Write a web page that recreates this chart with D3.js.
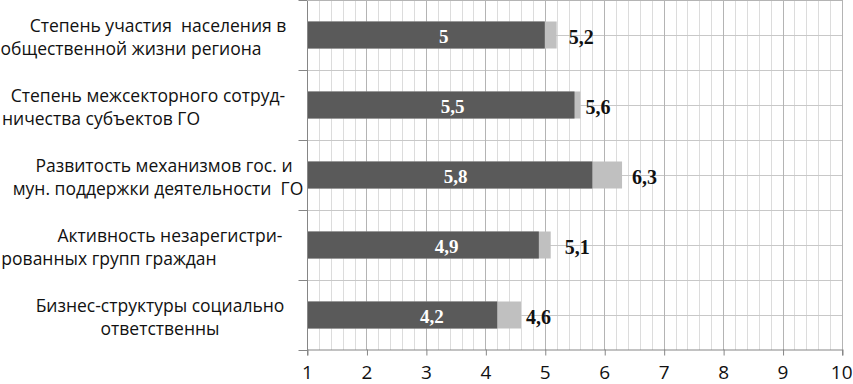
<!DOCTYPE html>
<html><head><meta charset="utf-8">
<script src="https://cdn.jsdelivr.net/npm/d3@7"></script>
<style>body{margin:0;background:#fff}svg{display:block}</style>
</head><body>
<svg id="c" width="853" height="384"></svg>
<script>
const categories = [
  "Степень участия  населения в общественной жизни региона",
  "Степень межсекторного сотрудничества субъектов ГО",
  "Развитость механизмов гос. и мун. поддержки деятельности ГО",
  "Активность незарегистрированных групп граждан",
  "Бизнес-структуры социально ответственны"
];
const labelLines = [
  ["Степень участия  населения в", "общественной жизни региона"],
  ["Степень межсекторного сотруд-", "ничества субъектов ГО"],
  ["Развитость механизмов гос. и", "мун. поддержки деятельности  ГО"],
  ["Активность незарегистри-", "рованных групп граждан"],
  ["Бизнес-структуры социально", "ответственны"]
];
const baseValues = [5, 5.5, 5.8, 4.9, 4.2];
const totalValues = [5.2, 5.6, 6.3, 5.1, 4.6];
const baseLabels = ["5", "5,5", "5,8", "4,9", "4,2"];
const totalLabels = ["5,2", "5,6", "6,3", "5,1", "4,6"];
const xTicks = [1, 2, 3, 4, 5, 6, 7, 8, 9, 10];

// layout (not data)
const lineCenters = [[158, 131], [148, 101], [164, 158], [170, 109], [160, 160]];
const innerLabelPos = [3.3, 3.45, 3.5, 3.35, 3.1];
const outerLabelGap = [12, 5, 10, 14, 5];

const svg = d3.select("#c");
const x = d3.scaleLinear().domain([1, 10]).range([307, 842]);
const y = d3.scaleBand().domain(categories).range([0, 350]).paddingInner(0.614).paddingOuter(0.307);
const step = y.step();

// minor vertical grid
const minor = d3.range(1, 10.0001, 0.2).map(v => +v.toFixed(1)).filter(v => Math.abs(v - Math.round(v)) > 1e-6);
svg.append("g").selectAll("line").data(minor).join("line")
  .attr("x1", d => Math.round(x(d)) + 0.5).attr("x2", d => Math.round(x(d)) + 0.5)
  .attr("y1", 0).attr("y2", 350).attr("stroke", "#dcdcdc").attr("stroke-width", 1);
// horizontal grid at half steps
const hLines = d3.range(0, 10).map(i => i * step / 2);
svg.append("g").selectAll("line").data(hLines).join("line")
  .attr("x1", 307).attr("x2", 842)
  .attr("y1", d => Math.round(d) + 0.5).attr("y2", d => Math.round(d) + 0.5)
  .attr("stroke", "#c8c8c8").attr("stroke-width", 1);
// major vertical grid
svg.append("g").selectAll("line").data(xTicks.slice(1)).join("line")
  .attr("x1", d => Math.round(x(d)) + 0.5).attr("x2", d => Math.round(x(d)) + 0.5)
  .attr("y1", 0).attr("y2", 350).attr("stroke", "#b4b4b4").attr("stroke-width", 1);

// bars
svg.append("g").selectAll("rect").data(categories).join("rect")
  .attr("x", x(1)).attr("y", d => y(d))
  .attr("width", (d, i) => x(totalValues[i]) - x(1)).attr("height", y.bandwidth())
  .attr("fill", "#c0c0c0");
svg.append("g").selectAll("rect").data(categories).join("rect")
  .attr("x", x(1)).attr("y", d => y(d))
  .attr("width", (d, i) => x(baseValues[i]) - x(1)).attr("height", y.bandwidth())
  .attr("fill", "#5a5a5a");

// inner labels
svg.append("g").selectAll("text").data(categories).join("text")
  .attr("x", (d, i) => x(innerLabelPos[i])).attr("y", d => y(d) + y.bandwidth() / 2 + 8)
  .attr("text-anchor", "middle").attr("fill", "#fff")
  .attr("font-family", "Liberation Serif, Times New Roman, serif").attr("font-weight", "bold").attr("font-size", 19)
  .text((d, i) => baseLabels[i]);
// outer labels
svg.append("g").selectAll("text").data(categories).join("text")
  .attr("x", (d, i) => x(totalValues[i]) + outerLabelGap[i]).attr("y", d => y(d) + y.bandwidth() / 2 + 9)
  .attr("text-anchor", "start").attr("fill", "#111")
  .attr("font-family", "Liberation Serif, Times New Roman, serif").attr("font-weight", "bold").attr("font-size", 20)
  .text((d, i) => totalLabels[i]);

// y axis
const yAxisG = svg.append("g").attr("transform", "translate(307.5,0)");
yAxisG.append("line").attr("x1", 0).attr("x2", 0).attr("y1", 0).attr("y2", 350).attr("stroke", "#868686");
yAxisG.selectAll("line.t").data(d3.range(0, 6)).join("line").attr("class", "t")
  .attr("x1", -9).attr("x2", 0).attr("y1", d => Math.round(d * step) + 0.5).attr("y2", d => Math.round(d * step) + 0.5)
  .attr("stroke", "#868686");
// top border
svg.append("line").attr("x1", 307).attr("x2", 843).attr("y1", 0.5).attr("y2", 0.5).attr("stroke", "#b4b4b4");

// x axis
const xAxis = d3.axisBottom(x).tickValues(xTicks).tickSize(6).tickFormat(d3.format("d"));
const xg = svg.append("g").attr("transform", "translate(0,349.5)").call(xAxis);
xg.select(".domain").attr("stroke", "#868686");
xg.selectAll(".tick line").attr("stroke", "#868686").attr("transform", "translate(0.5,0)");
xg.selectAll(".tick text").attr("y", 0).attr("dy", "29px").attr("font-size", 19)
  .attr("font-family", "Open Sans, sans-serif").attr("fill", "#111");
xg.selectAll(".tick text").filter(d => d === 10).attr("text-anchor", "end").attr("dx", "10px");

// category labels
const lg = svg.append("g").attr("font-family", "Open Sans, sans-serif").attr("font-size", 17.5).attr("fill", "#111");
categories.forEach((c, i) => {
  const cy = y(c) + y.bandwidth() / 2;
  labelLines[i].forEach((ln, j) => {
    lg.append("text").attr("x", lineCenters[i][j]).attr("y", cy + (j === 0 ? -3 : 20))
      .attr("text-anchor", "middle").attr("xml:space", "preserve").style("white-space", "pre").text(ln);
  });
});
</script>
</body></html>
